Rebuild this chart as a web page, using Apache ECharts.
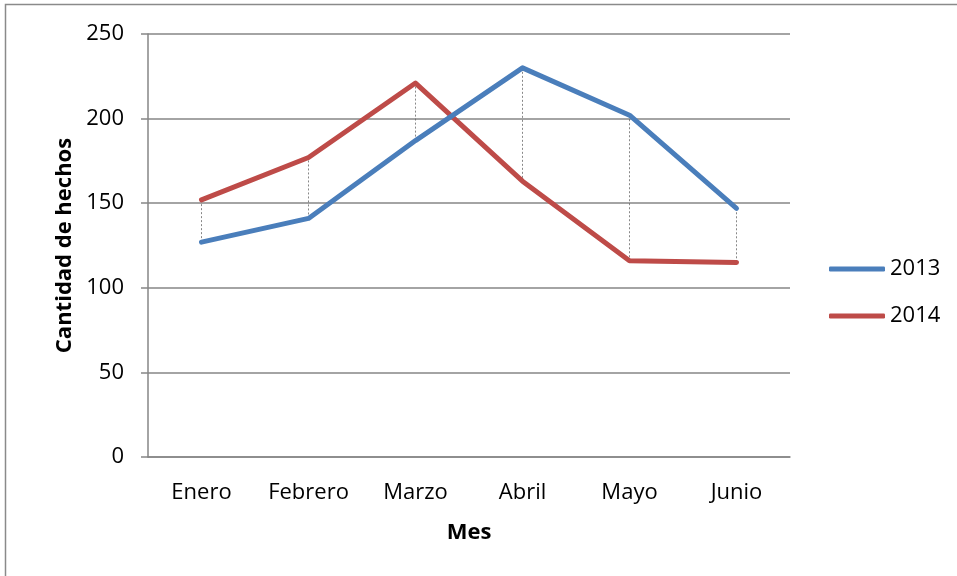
<!DOCTYPE html>
<html>
<head>
<meta charset="utf-8">
<script src="https://cdn.jsdelivr.net/npm/echarts@6/dist/echarts.min.js"></script>
<style>html,body{margin:0;padding:0;background:#fff}#c{width:957px;height:576px}</style>
</head>
<body>
<div id="c"></div>
<script>
var categories = ['Enero', 'Febrero', 'Marzo', 'Abril', 'Mayo', 'Junio'];
var values2013 = [127, 141, 187, 230, 202, 147];
var values2014 = [152, 177, 221, 163, 116, 115];
var seriesNames = ['2013', '2014'];
var yTicks = [0, 50, 100, 150, 200, 250];

var FONT = 'Open Sans';
var FS = 22;
var chart = echarts.init(document.getElementById('c'));
var dropData = categories.map(function (c, i) { return [i, values2013[i], values2014[i]]; });

chart.setOption({
  animation: false,
  backgroundColor: '#fff',
  textStyle: { fontFamily: FONT },
  graphic: [{
    type: 'rect', silent: true, z: -1,
    shape: { x: 5.5, y: 4.5, width: 1000, height: 1000 },
    style: { fill: 'none', stroke: '#8a8a8a', lineWidth: 1.5 }
  }],
  grid: { left: 148, right: 167, top: 34, bottom: 119 },
  legend: {
    orient: 'vertical', left: 824, top: 253, itemGap: 25,
    itemWidth: 56, itemHeight: 5, icon: 'roundRect',
    data: seriesNames,
    textStyle: { fontFamily: FONT, fontSize: FS, color: '#000' }
  },
  xAxis: {
    type: 'category', data: categories, boundaryGap: true,
    name: 'Mes', nameLocation: 'middle', nameGap: 65,
    nameTextStyle: { fontFamily: FONT, fontSize: FS, fontWeight: 'bold', color: '#000' },
    axisLine: { show: true, lineStyle: { color: '#868686', width: 1.5 } },
    axisTick: { show: false },
    axisLabel: { margin: 25, fontSize: FS, color: '#000', fontFamily: FONT },
    splitLine: { show: false }
  },
  yAxis: {
    type: 'value', min: 0, max: 250, interval: 50,
    name: 'Cantidad de hechos', nameLocation: 'middle', nameGap: 72,
    nameTextStyle: { fontFamily: FONT, fontSize: FS, fontWeight: 'bold', color: '#000' },
    axisLine: { show: true, lineStyle: { color: '#868686', width: 1.5 } },
    axisTick: { show: true, inside: false, length: 7, lineStyle: { color: '#868686', width: 1.5 } },
    axisLabel: { margin: 24, fontSize: FS, color: '#000', fontFamily: FONT,
      formatter: function (v) { return yTicks.indexOf(v) >= 0 ? String(v) : ''; } },
    splitLine: { show: true, lineStyle: { color: '#868686', width: 1.5 } }
  },
  series: [
    {
      type: 'custom', name: 'drop', silent: true, z: 1,
      data: dropData,
      renderItem: function (params, api) {
        var p1 = api.coord([api.value(0), api.value(1)]);
        var p2 = api.coord([api.value(0), api.value(2)]);
        return { type: 'line', shape: { x1: p1[0], y1: p1[1], x2: p2[0], y2: p2[1] },
          style: { stroke: '#555', lineWidth: 1, lineDash: [2, 2], opacity: 0.7 } };
      }
    },
    {
      type: 'line', name: seriesNames[0], data: values2013, symbol: 'none', z: 3,
      itemStyle: { color: '#4A7EBB' },
      lineStyle: { color: '#4A7EBB', width: 5, cap: 'round', join: 'round' }
    },
    {
      type: 'line', name: seriesNames[1], data: values2014, symbol: 'none', z: 2,
      itemStyle: { color: '#BE4B48' },
      lineStyle: { color: '#BE4B48', width: 5, cap: 'round', join: 'round' }
    }
  ]
});
</script>
</body>
</html>
